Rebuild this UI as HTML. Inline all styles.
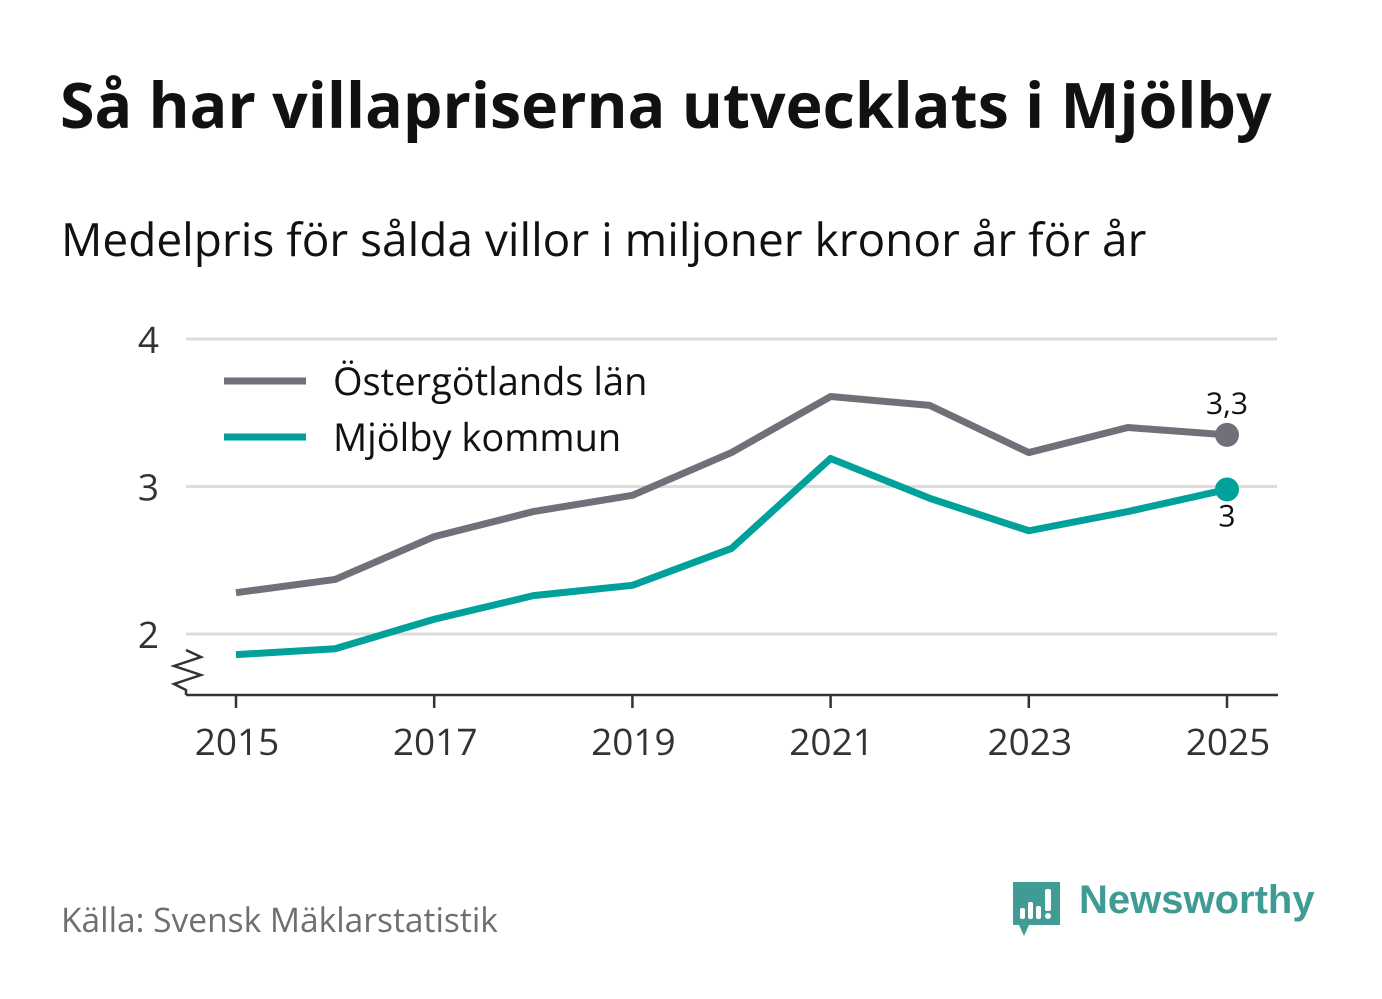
<!DOCTYPE html>
<html><head><meta charset="utf-8"><style>
body{margin:0;width:1382px;height:999px;background:#fff;font-family:"Open Sans","Liberation Sans",sans-serif;overflow:hidden;position:relative}
.t{position:absolute;white-space:nowrap}
</style></head><body>
<div class="t" style="left:60px;top:62px;font-size:62.6px;font-weight:bold;color:#111">Så har villapriserna utvecklats i Mjölby</div>
<div class="t" style="left:61px;top:208px;font-size:46px;color:#111">Medelpris för sålda villor i miljoner kronor år för år</div>
<svg id="c" width="1382" height="999" style="position:absolute;left:0;top:0"></svg>
<div class="t" style="left:61px;top:896px;font-size:33.5px;color:#6e6e73">Källa: Svensk Mäklarstatistik</div>
<svg style="position:absolute;left:1011px;top:880px" width="52" height="62">
<path d="M2 2 H49 V45 H18 L13 56 L8 45 H2 Z" fill="#3f9b94"/>
<rect x="9" y="28" width="5" height="11" rx="2" fill="#fff"/><rect x="17" y="22" width="5" height="17" rx="2" fill="#fff"/><rect x="25" y="26" width="5" height="13" rx="2" fill="#fff"/><rect x="34" y="9" width="6" height="22" rx="2" fill="#fff"/><circle cx="37" cy="36" r="3" fill="#fff"/>
</svg>
<div class="t" style="left:1079px;top:878px;font-size:40px;font-weight:bold;color:#3f9b94;font-family:'Liberation Sans',sans-serif">Newsworthy</div>
<script>
const years=[2015,2016,2017,2018,2019,2020,2021,2022,2023,2024,2025];
const lanValues=[2.28,2.37,2.66,2.83,2.94,3.23,3.61,3.55,3.23,3.40,3.35];
const mjolbyValues=[1.86,1.90,2.10,2.26,2.33,2.58,3.19,2.92,2.70,2.83,2.98];
const yTicks=[2,3,4];
const xTicks=[2015,2017,2019,2021,2023,2025];
const lanLabel="3,3", mjolbyLabel="3";
const svg=document.getElementById('c');const NS='http://www.w3.org/2000/svg';
const x=v=>236+(v-2015)*99.1;
const y=v=>634-(v-2)*147.5;
function mk(t,a,p){const e=document.createElementNS(NS,t);for(const k in a)e.setAttribute(k,a[k]);(p||svg).appendChild(e);return e;}
yTicks.forEach(v=>{
 const g=mk('line',{x1:186,x2:1277,y1:y(v),y2:y(v),stroke:'#dcdcdc','stroke-width':3});
 
 
 const t=mk('text',{x:159,y:y(v)+14,'text-anchor':'end','font-size':37,fill:'#333','font-family':'Open Sans,Liberation Sans,sans-serif'});t.textContent=v;
 
 
});
const ax=mk('line',{x1:186,x2:1278,y1:695,y2:695,stroke:'#333','stroke-width':2.5});


const br=mk('polyline',{points:'186,650 201,657 174,666 201,675 174,684 186,690 186,695',fill:'none',stroke:'#333','stroke-width':2.5});


xTicks.forEach(v=>{
 mk('line',{x1:x(v),x2:x(v),y1:695,y2:708,stroke:'#333','stroke-width':2.5});
 const t=mk('text',{x:x(v)+1,y:755,'text-anchor':'middle','font-size':37,fill:'#333','font-family':'Open Sans,Liberation Sans,sans-serif'});t.textContent=v;
 
 
});
function series(vals,col,name){
 const p=mk('polyline',{points:vals.map((v,i)=>x(years[i])+','+y(v)).join(' '),fill:'none',stroke:col,'stroke-width':7,'stroke-linejoin':'round'});
 
 
 const c=mk('circle',{cx:x(years[years.length-1]),cy:y(vals[vals.length-1]),r:12,fill:col});
 
 
}
series(lanValues,'#707078','lan');
series(mjolbyValues,'#00a19a','mjolby');
const l1=mk('text',{x:1227,y:y(lanValues[10])-21,'text-anchor':'middle','font-size':30,fill:'#111','font-family':'Open Sans,Liberation Sans,sans-serif'});l1.textContent=lanLabel;


const l2=mk('text',{x:1227,y:y(mjolbyValues[10])+37,'text-anchor':'middle','font-size':30,fill:'#111','font-family':'Open Sans,Liberation Sans,sans-serif'});l2.textContent=mjolbyLabel;


[['Östergötlands län','#707078',381],['Mjölby kommun','#00a19a',437]].forEach((d,i)=>{
 const s=mk('line',{x1:224,x2:306,y1:d[2],y2:d[2],stroke:d[1],'stroke-width':7});
 
 
 const t=mk('text',{x:333,y:d[2]+14,'font-size':38,fill:'#111','font-family':'Open Sans,Liberation Sans,sans-serif'});t.textContent=d[0];
 
 
});
</script>
</body></html>
